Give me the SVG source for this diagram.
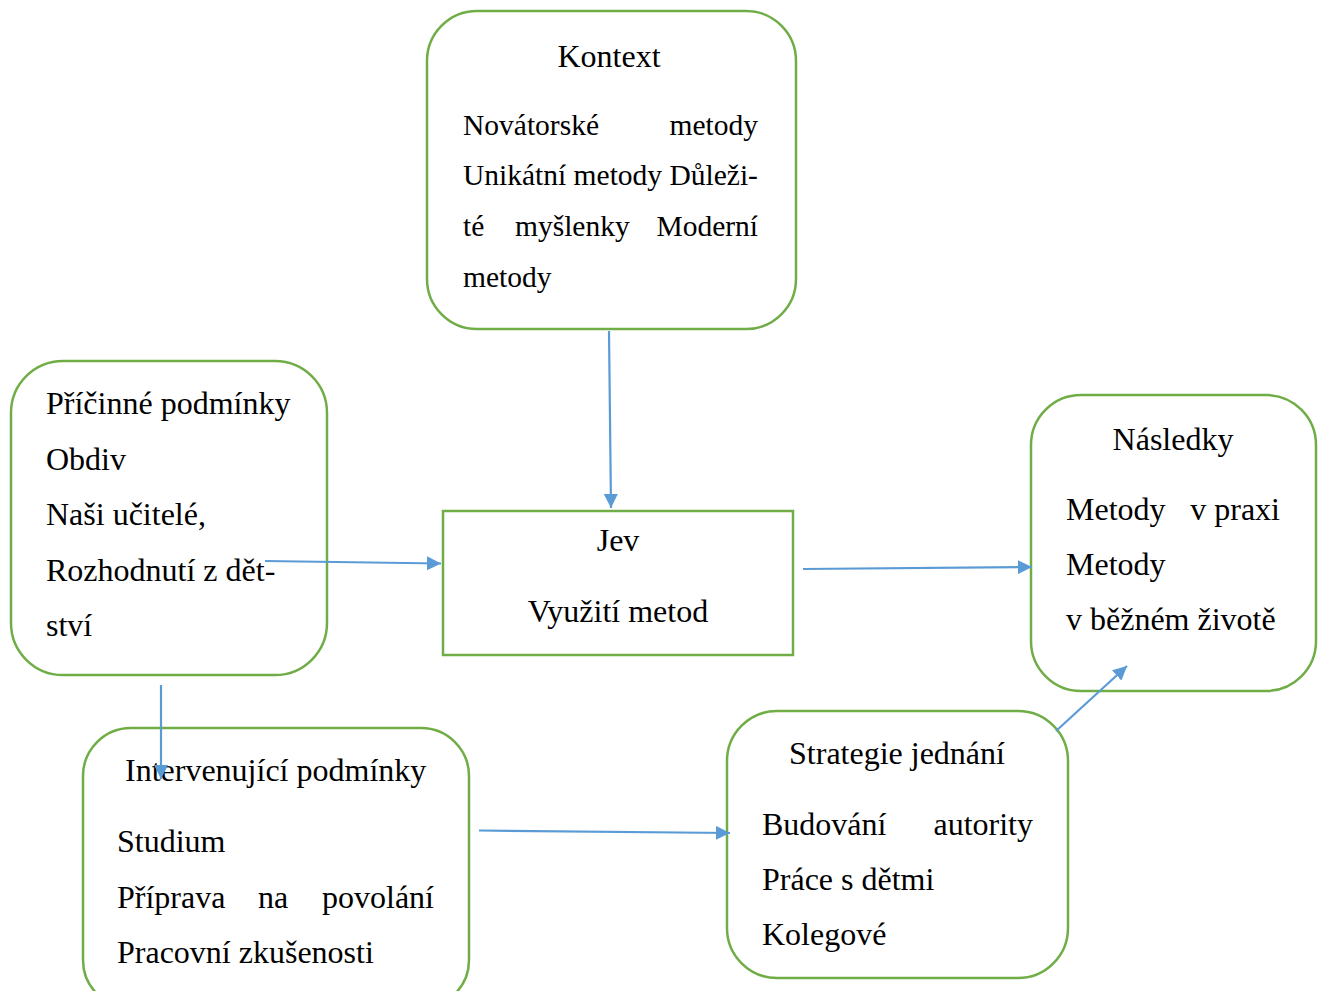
<svg xmlns="http://www.w3.org/2000/svg" width="1319" height="991" viewBox="0 0 1319 991">
<style>
.box{fill:#fff;stroke:#70AD47;stroke-width:2.5}
.t{font-family:"Liberation Serif","Times New Roman",serif;font-size:32px;fill:#000}
.s{font-size:29.5px}
.c{text-anchor:middle}
.e{text-anchor:end}
.conn line{stroke:#5B9BD5;stroke-width:2.2;fill:none}
</style>
<defs>
<marker id="ah" markerUnits="userSpaceOnUse" markerWidth="15" markerHeight="14" refX="14" refY="7" orient="auto">
<path d="M0,0 L14,7 L0,14 z" fill="#5B9BD5"/>
</marker>
</defs>
<rect width="1319" height="991" fill="#fff"/>

<g id="kontext">
<rect class="box" x="427" y="11" width="369" height="318" rx="50" ry="50"/>
<text class="t c" x="609" y="67">Kontext</text>
<text class="t s" x="463" y="135">Novátorské</text>
<text class="t s e" x="758" y="135">metody</text>
<text class="t s" x="463" y="185">Unikátní metody Důleži-</text>
<text class="t s" x="463" y="236">té</text>
<text class="t s" x="515" y="236">myšlenky</text>
<text class="t s e" x="758" y="236">Moderní</text>
<text class="t s" x="463" y="287">metody</text>
</g>

<g id="pricinne">
<rect class="box" x="11" y="361" width="316" height="314" rx="52" ry="52"/>
<text class="t" x="46" y="414">Příčinné podmínky</text>
<text class="t" x="46" y="470">Obdiv</text>
<text class="t" x="46" y="525">Naši učitelé,</text>
<text class="t" x="46" y="581">Rozhodnutí z dět-</text>
<text class="t" x="46" y="636">ství</text>
</g>

<g id="jev">
<rect class="box" x="443" y="511" width="350" height="144" fill="#fff"/>
<text class="t c" x="618" y="551">Jev</text>
<text class="t c" x="618" y="622">Využití metod</text>
</g>

<g id="nasledky">
<rect class="box" x="1031" y="395" width="285" height="296" rx="50" ry="50"/>
<text class="t c" x="1173" y="450">Následky</text>
<text class="t" x="1066" y="520">Metody</text>
<text class="t e" x="1280" y="520">v praxi</text>
<text class="t" x="1066" y="575">Metody</text>
<text class="t" x="1066" y="630">v běžném životě</text>
</g>

<g id="strategie">
<rect class="box" x="727" y="711" width="341" height="267" rx="50" ry="50"/>
<text class="t c" x="897" y="764">Strategie jednání</text>
<text class="t" x="762" y="835">Budování</text>
<text class="t e" x="1033" y="835">autority</text>
<text class="t" x="762" y="890">Práce s dětmi</text>
<text class="t" x="762" y="945">Kolegové</text>
</g>

<g id="intervenujici">
<rect class="box" x="83" y="728" width="386" height="280" rx="48" ry="48"/>
<text class="t" x="125" y="781">Intervenující podmínky</text>
<text class="t" x="117" y="852">Studium</text>
<text class="t" x="117" y="908">Příprava</text>
<text class="t" x="258" y="908">na</text>
<text class="t e" x="434" y="908">povolání</text>
<text class="t" x="117" y="963">Pracovní zkušenosti</text>
</g>

<g id="connectors" class="conn">
<line x1="609" y1="331" x2="611" y2="508" marker-end="url(#ah)"/>
<line x1="265" y1="561" x2="441" y2="563.5" marker-end="url(#ah)"/>
<line x1="803" y1="569" x2="1032" y2="567" marker-end="url(#ah)"/>
<line x1="161" y1="685" x2="161" y2="779" marker-end="url(#ah)"/>
<line x1="479" y1="830.5" x2="730" y2="833" marker-end="url(#ah)"/>
<line x1="1056" y1="731" x2="1127" y2="666" marker-end="url(#ah)"/>
</g>
</svg>
